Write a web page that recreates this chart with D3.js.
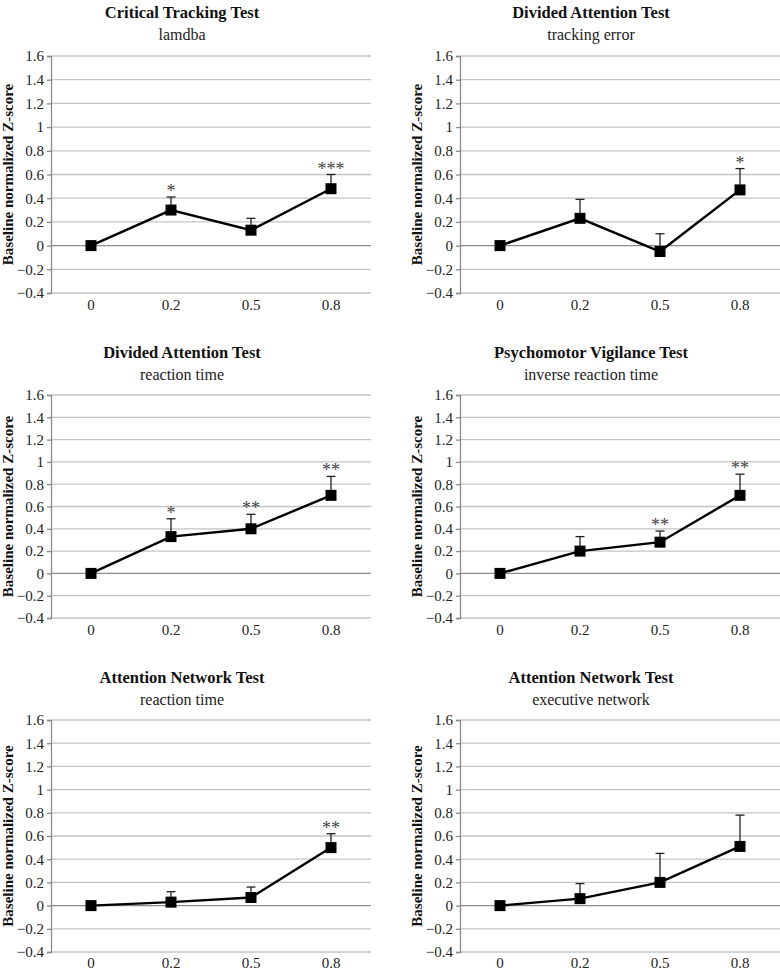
<!DOCTYPE html>
<html><head><meta charset="utf-8">
<script src="https://cdn.jsdelivr.net/npm/d3@7"></script>
<style>body{margin:0;background:#fff}svg{display:block}</style>
</head><body><svg id="c" width="780" height="970"></svg>
<script>
const categories = ["0", "0.2", "0.5", "0.8"];
const yTicks = [-0.4, -0.2, 0, 0.2, 0.4, 0.6, 0.8, 1, 1.2, 1.4, 1.6];
const titles = ["Critical Tracking Test", "Divided Attention Test", "Divided Attention Test",
  "Psychomotor Vigilance Test", "Attention Network Test", "Attention Network Test"];
const subtitles = ["lamdba", "tracking error", "reaction time",
  "inverse reaction time", "reaction time", "executive network"];
const yLabel = "Baseline normalized Z-score";

const cttLambda     = [0, 0.30, 0.13, 0.48];
const cttLambdaErr  = [0, 0.11, 0.10, 0.12];
const cttStars      = ["", "*", "", "***"];

const datTrack      = [0, 0.23, -0.05, 0.47];
const datTrackErr   = [0, 0.16, 0.15, 0.18];
const datTrackStars = ["", "", "", "*"];

const datRt         = [0, 0.33, 0.40, 0.70];
const datRtErr      = [0, 0.16, 0.13, 0.17];
const datRtStars    = ["", "*", "**", "**"];

const pvtInv        = [0, 0.20, 0.28, 0.70];
const pvtInvErr     = [0, 0.13, 0.10, 0.19];
const pvtStars      = ["", "", "**", "**"];

const antRt         = [0, 0.03, 0.07, 0.50];
const antRtErr      = [0, 0.09, 0.09, 0.12];
const antRtStars    = ["", "", "", "**"];

const antExec       = [0, 0.06, 0.20, 0.51];
const antExecErr    = [0, 0.13, 0.25, 0.27];
const antExecStars  = ["", "", "", ""];

const series = [
  [cttLambda, cttLambdaErr, cttStars],
  [datTrack, datTrackErr, datTrackStars],
  [datRt, datRtErr, datRtStars],
  [pvtInv, pvtInvErr, pvtStars],
  [antRt, antRtErr, antRtStars],
  [antExec, antExecErr, antExecStars]
];

// layout
const cols = [51, 460];
const rows = [
  {top: 56, bot: 293, title: 18, sub: 40, xl: 310},
  {top: 395, bot: 618, title: 358, sub: 380, xl: 635},
  {top: 720, bot: 952, title: 683, sub: 705, xl: 968}
];
const plotW = 320;
const serif = "'Liberation Serif','Times New Roman',serif";

const svg = d3.select("#c");

series.forEach((s, i) => {
  const [vals, errs, stars] = s;
  const L = cols[i % 2], R = rows[Math.floor(i / 2)];
  const x = d3.scaleBand().domain(categories).range([L, L + plotW]).padding(0);
  const y = d3.scaleLinear().domain([-0.4, 1.6]).range([R.bot, R.top]);
  const g = svg.append("g");

  // gridlines
  g.selectAll("line.grid").data(yTicks).join("line")
    .attr("x1", L).attr("x2", L + plotW)
    .attr("y1", d => y(d)).attr("y2", d => y(d))
    .attr("stroke", d => d === 0 ? "#8a8a8a" : "#c4c4c4")
    .attr("stroke-width", 1.3);

  // y axis
  const ya = d3.axisLeft(y).tickValues(yTicks).tickSize(4).tickPadding(3)
    .tickFormat(d => d3.format("")(+d.toFixed(1)));
  const yg = g.append("g").attr("transform", `translate(${L},0)`).call(ya);
  yg.attr("font-family", serif);
  yg.select(".domain").attr("stroke", "#8a8a8a").attr("stroke-width", 1.3);
  yg.selectAll(".tick line").attr("stroke", "#8a8a8a").attr("stroke-width", 1.3);
  yg.selectAll("text").attr("font-family", serif).attr("font-size", 15).attr("fill", "#222");

  // x tick labels
  g.selectAll("text.xl").data(categories).join("text")
    .attr("x", d => x(d) + x.bandwidth() / 2).attr("y", R.xl)
    .attr("text-anchor", "middle").attr("font-family", serif).attr("font-size", 15)
    .attr("fill", "#222").text(d => d);

  // titles
  g.append("text").attr("x", L + 131).attr("y", R.title).attr("text-anchor", "middle")
    .attr("font-family", serif).attr("font-size", 16.5).attr("font-weight", "bold")
    .attr("fill", "#111").text(titles[i]);
  g.append("text").attr("x", L + 131).attr("y", R.sub).attr("text-anchor", "middle")
    .attr("font-family", serif).attr("font-size", 16).attr("fill", "#222").text(subtitles[i]);

  // y label
  const ym = (R.top + R.bot) / 2;
  g.append("text").attr("transform", `translate(${L - 38},${ym}) rotate(-90)`)
    .attr("text-anchor", "middle").attr("font-family", serif).attr("font-size", 15)
    .attr("font-weight", "bold").attr("fill", "#111").text(yLabel);

  const pts = categories.map((c, j) => ({c, v: vals[j], e: errs[j], s: stars[j]}));
  const cx = d => x(d.c) + x.bandwidth() / 2;

  // error bars (upper only)
  const eb = pts.filter(d => d.e > 0);
  g.selectAll("line.eb").data(eb).join("line")
    .attr("x1", cx).attr("x2", cx).attr("y1", d => y(d.v)).attr("y2", d => y(d.v + d.e))
    .attr("stroke", "#222").attr("stroke-width", 1.3);
  g.selectAll("line.cap").data(eb).join("line")
    .attr("x1", d => cx(d) - 4.5).attr("x2", d => cx(d) + 4.5)
    .attr("y1", d => y(d.v + d.e)).attr("y2", d => y(d.v + d.e))
    .attr("stroke", "#222").attr("stroke-width", 1.3);

  // line
  g.append("path").datum(pts)
    .attr("d", d3.line().x(cx).y(d => y(d.v)))
    .attr("fill", "none").attr("stroke", "#000").attr("stroke-width", 2.4);

  // markers
  g.selectAll("rect.m").data(pts).join("rect")
    .attr("x", d => cx(d) - 5.5).attr("y", d => y(d.v) - 5.5)
    .attr("width", 11).attr("height", 11).attr("fill", "#000");

  // stars
  g.selectAll("text.star").data(pts.filter(d => d.s)).join("text")
    .attr("x", cx).attr("y", d => y(d.v + d.e))
    .attr("text-anchor", "middle").attr("font-family", serif).attr("font-size", 18)
    .attr("fill", "#444").text(d => d.s);
});
</script></body></html>
